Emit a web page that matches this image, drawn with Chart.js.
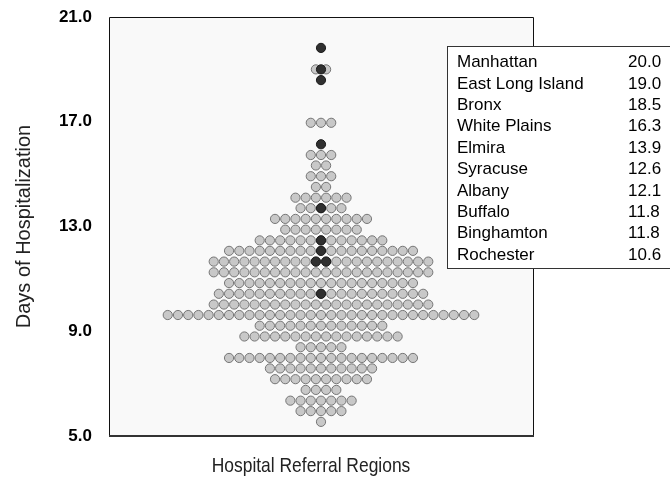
<!DOCTYPE html>
<html>
<head>
<meta charset="utf-8">
<script src="https://cdn.jsdelivr.net/npm/chart.js@4.4.1/dist/chart.umd.min.js"></script>
<style>
  html, body { margin: 0; padding: 0; background: #fff; }
  #wrap { width: 670px; height: 479px; }
</style>
</head>
<body>
<div id="wrap"><canvas id="swarm" width="670" height="479"></canvas></div>
<script>
// swarm rows: binned days of hospitalization and how many regions fall in each bin
const rowDays = [5.54, 5.95, 6.35, 6.76, 7.17, 7.58, 7.98, 8.39, 8.80, 9.21, 9.62, 10.02, 10.43, 10.84,
                 11.25, 11.66, 12.07, 12.47, 12.88, 13.29, 13.70, 14.10, 14.51, 14.92, 15.33, 15.73, 16.96, 19.00];
const rowCounts = [1, 5, 7, 4, 10, 11, 19, 5, 16, 13, 31, 22, 21, 19,
                   22, 22, 19, 13, 8, 10, 5, 6, 2, 3, 2, 3, 3, 2];

// highlighted New York regions
const regionNames = ["Manhattan", "East Long Island", "Bronx", "White Plains", "Elmira",
                     "Syracuse", "Albany", "Buffalo", "Binghamton", "Rochester"];
const regionDays = [20.0, 19.0, 18.5, 16.3, 13.9, 12.6, 12.1, 11.8, 11.8, 10.6];
// the swarm row each highlighted region is drawn in
const regionRowDays = [19.82, 19.00, 18.59, 16.14, 13.70, 12.47, 12.07, 11.66, 11.66, 10.43];

const yTicks = [5, 9, 13, 17, 21];

const greyPoints = [];
rowDays.forEach((d, i) => {
    const n = rowCounts[i];
    for (let k = 0; k < n; k++) {
        greyPoints.push({ x: k - (n - 1) / 2, y: d });
    }
});

const darkPoints = regionRowDays.map((d, i) => {
    const same = regionRowDays.filter(v => v === d).length;
    const idx = regionRowDays.slice(0, i).filter(v => v === d).length;
    return { x: idx - (same - 1) / 2, y: d };
});

const FONT = "'Liberation Sans', Arial, sans-serif";

// plot background, frame, region box and x title
const decor = {
    id: "decor",
    beforeDraw(chart) {
        const { ctx, chartArea: a } = chart;
        ctx.save();
        ctx.fillStyle = "#f9f9f9";
        ctx.fillRect(a.left, a.top, a.right - a.left, a.bottom - a.top);
        ctx.restore();
    },
    afterDraw(chart) {
        const { ctx, chartArea: a } = chart;
        ctx.save();
        ctx.strokeStyle = "#111";
        ctx.lineWidth = 1;
        ctx.beginPath();
        ctx.moveTo(a.left + 0.5, a.bottom);
        ctx.lineTo(a.left + 0.5, a.top + 0.5);
        ctx.lineTo(a.right + 0.5, a.top + 0.5);
        ctx.lineTo(a.right + 0.5, a.bottom);
        ctx.stroke();
        ctx.strokeStyle = "#333";
        ctx.lineWidth = 2;
        ctx.beginPath();
        ctx.moveTo(a.left, a.bottom);
        ctx.lineTo(a.right + 1, a.bottom);
        ctx.stroke();

        // region list box
        ctx.fillStyle = "#fff";
        ctx.fillRect(447.5, 46.5, 240, 222);
        ctx.strokeStyle = "#333";
        ctx.lineWidth = 1;
        ctx.strokeRect(447.5, 46.5, 240, 222);
        ctx.fillStyle = "#000";
        ctx.font = "17px " + FONT;
        ctx.textBaseline = "middle";
        ctx.textAlign = "left";
        regionNames.forEach((name, i) => {
            const y = 62.5 + i * 21.4;
            ctx.fillText(name, 457, y);
            ctx.fillText(regionDays[i].toFixed(1), 628, y);
        });

        // x axis title, squeezed to look like a narrow face
        ctx.fillStyle = "#222";
        ctx.font = "21px " + FONT;
        ctx.textAlign = "center";
        ctx.translate(311, 466);
        ctx.scale(0.83, 1);
        ctx.fillText("Hospital Referral Regions", 0, 0);
        ctx.restore();
    }
};

const ctx = document.getElementById("swarm").getContext("2d");
new Chart(ctx, {
    type: "scatter",
    data: {
        datasets: [
            {
                label: "New York",
                data: darkPoints,
                pointRadius: 4.6,
                pointBackgroundColor: "#303030",
                pointBorderColor: "#1a1a1a",
                pointBorderWidth: 1
            },
            {
                label: "Regions",
                data: greyPoints,
                pointRadius: 4.6,
                pointBackgroundColor: "#c8c8c8",
                pointBorderColor: "#767676",
                pointBorderWidth: 1
            }
        ]
    },
    options: {
        responsive: false,
        animation: false,
        devicePixelRatio: 1,
        layout: { padding: { left: 0, top: 17, right: 137, bottom: 0 } },
        plugins: {
            legend: { display: false },
            tooltip: { enabled: false }
        },
        scales: {
            x: {
                type: "linear",
                min: -20.75,
                max: 20.75,
                grid: { display: false },
                border: { display: false },
                ticks: { display: false },
                afterFit: s => { s.height = 43; }
            },
            y: {
                type: "linear",
                min: 5,
                max: 21,
                afterBuildTicks: s => { s.ticks = yTicks.map(v => ({ value: v })); },
                // invisible tick marks give the gap between labels and frame
                grid: {
                    display: true,
                    drawOnChartArea: false,
                    drawTicks: true,
                    tickLength: 17,
                    color: "rgba(0,0,0,0)"
                },
                border: { display: false },
                ticks: {
                    padding: 0,
                    color: "#000",
                    font: { family: FONT, size: 17, weight: "bold" },
                    callback: v => Number(v).toFixed(1)
                },
                title: {
                    display: true,
                    text: "Days of Hospitalization",
                    color: "#222",
                    font: { family: FONT, size: 20 },
                    padding: { top: 12, bottom: 0 }
                },
                afterFit: s => { s.width = 109; }
            }
        }
    },
    plugins: [decor]
});
</script>
</body>
</html>
